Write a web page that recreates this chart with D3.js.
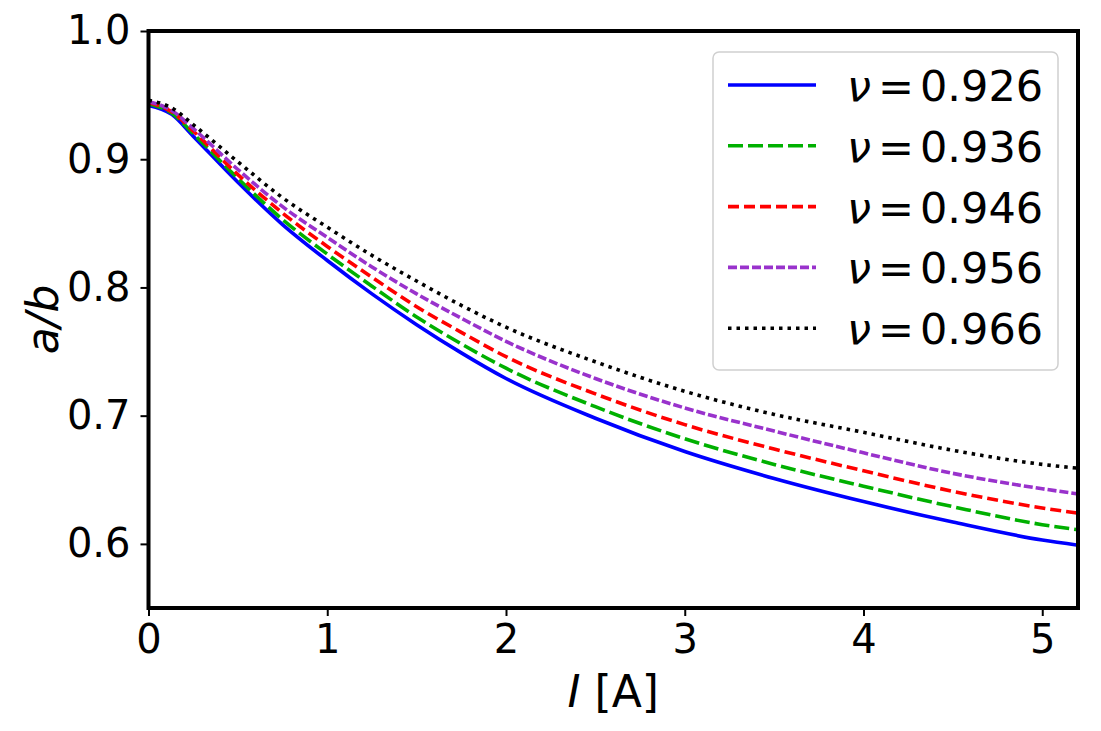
<!DOCTYPE html>
<html>
  <head>
    <title>a/b vs I</title>
    <script src="https://d3js.org/d3.v7.min.js"></script>
    <style>
      body { margin: 0; background: #fff; }
      text { font-family: "DejaVu Sans", sans-serif; }
    </style>
  </head>
  <body>
    <div id="chart"></div>

    <script>
      // current values (A)
      const currents = [0, 0.13, 0.25, 0.5, 0.75, 1, 1.25, 1.5, 1.75, 2, 2.5, 3, 3.5, 4, 4.5, 5, 5.2];

      // a/b for each nu
      const ab926 = [0.942, 0.935, 0.918, 0.882, 0.849, 0.821, 0.795, 0.771, 0.749, 0.729, 0.698, 0.672, 0.651, 0.633, 0.617, 0.603, 0.599];
      const ab936 = [0.943, 0.936, 0.920, 0.885, 0.853, 0.826, 0.801, 0.777, 0.756, 0.737, 0.707, 0.682, 0.662, 0.645, 0.629, 0.615, 0.611];
      const ab946 = [0.944, 0.937, 0.922, 0.888, 0.858, 0.832, 0.808, 0.785, 0.765, 0.746, 0.717, 0.693, 0.674, 0.657, 0.641, 0.628, 0.624];
      const ab956 = [0.945, 0.938, 0.924, 0.892, 0.863, 0.839, 0.816, 0.795, 0.776, 0.758, 0.729, 0.706, 0.688, 0.671, 0.655, 0.643, 0.639];
      const ab966 = [0.946, 0.940, 0.927, 0.898, 0.870, 0.847, 0.825, 0.805, 0.786, 0.769, 0.742, 0.719, 0.701, 0.687, 0.673, 0.662, 0.659];

      const nuLabels = ["0.926", "0.936", "0.946", "0.956", "0.966"];
      const xTicks = [0, 1, 2, 3, 4, 5];
      const yTicks = [0.6, 0.7, 0.8, 0.9, 1.0];

      const series = [
        { nu: nuLabels[0], values: ab926, color: "#0000ff", dash: null },
        { nu: nuLabels[1], values: ab936, color: "#00b000", dash: "15,5" },
        { nu: nuLabels[2], values: ab946, color: "#ff0000", dash: "11,5" },
        { nu: nuLabels[3], values: ab956, color: "#9932cc", dash: "9,3" },
        { nu: nuLabels[4], values: ab966, color: "#000000", dash: "3.5,5" }
      ];

      const width = 1101, height = 731;
      const margin = { top: 31, right: 23, bottom: 123, left: 148.5 };

      const svg = d3.select("#chart").append("svg")
        .attr("width", width)
        .attr("height", height);

      const x = d3.scaleLinear().domain([0, 5.2]).range([margin.left, width - margin.right]);
      const y = d3.scaleLinear().domain([0.55, 1.0]).range([height - margin.bottom, margin.top]);

      // lines
      const line = d3.line()
        .x((d, i) => x(currents[i]))
        .y(d => y(d))
        .curve(d3.curveMonotoneX);

      svg.append("g").selectAll("path")
        .data(series)
        .enter()
        .append("path")
        .attr("d", d => line(d.values))
        .attr("fill", "none")
        .attr("stroke", d => d.color)
        .attr("stroke-width", 3.6)
        .attr("stroke-dasharray", d => d.dash);

      // axes
      const xAxis = svg.append("g")
        .attr("transform", `translate(0,${height - margin.bottom})`)
        .call(d3.axisBottom(x).tickValues(xTicks).tickFormat(d3.format("d")).tickSize(8).tickPadding(9));

      const yAxis = svg.append("g")
        .attr("transform", `translate(${margin.left},0)`)
        .call(d3.axisLeft(y).tickValues(yTicks).tickFormat(d3.format(".1f")).tickSize(8).tickPadding(10));

      [xAxis, yAxis].forEach(g => {
        g.select(".domain").remove();
        g.selectAll(".tick line").attr("stroke", "#000").attr("stroke-width", 2);
        g.selectAll(".tick text").attr("fill", "#000").style("font-size", "40px");
      });

      // frame
      svg.append("rect")
        .attr("x", margin.left)
        .attr("y", margin.top)
        .attr("width", width - margin.right - margin.left)
        .attr("height", height - margin.bottom - margin.top)
        .attr("fill", "none")
        .attr("stroke", "#000")
        .attr("stroke-width", 4);

      // axis labels
      const xl = svg.append("text")
        .attr("x", (margin.left + width - margin.right) / 2)
        .attr("y", 707)
        .attr("text-anchor", "middle")
        .style("font-size", "44px");
      xl.append("tspan").style("font-style", "italic").text("I");
      xl.append("tspan").text(" [A]");

      svg.append("text")
        .attr("transform", `translate(58,${(margin.top + height - margin.bottom) / 2}) rotate(-90)`)
        .attr("text-anchor", "middle")
        .style("font-size", "44px")
        .style("font-style", "italic")
        .text("a/b");

      // legend
      const legend = svg.append("g");
      legend.append("rect")
        .attr("x", 713).attr("y", 52)
        .attr("width", 345).attr("height", 318)
        .attr("rx", 6)
        .attr("fill", "#fff").attr("fill-opacity", 0.85)
        .attr("stroke", "#d0d0d0").attr("stroke-width", 1.5);

      const rows = legend.selectAll("g.row")
        .data(series)
        .enter()
        .append("g")
        .attr("class", "row")
        .attr("transform", (d, i) => `translate(0,${85 + i * 60.8})`);

      rows.append("line")
        .attr("x1", 728).attr("x2", 816)
        .attr("stroke", d => d.color)
        .attr("stroke-width", 3.6)
        .attr("stroke-dasharray", d => d.dash);

      const lt = rows.append("text")
        .attr("y", 16)
        .style("font-size", "43px");
      lt.append("tspan").attr("x", 847).style("font-style", "italic").text("\u03bd");
      lt.append("tspan").attr("x", 878).text("=");
      lt.append("tspan").attr("x", 920).text(d => d.nu);
    </script>
  </body>
</html>
